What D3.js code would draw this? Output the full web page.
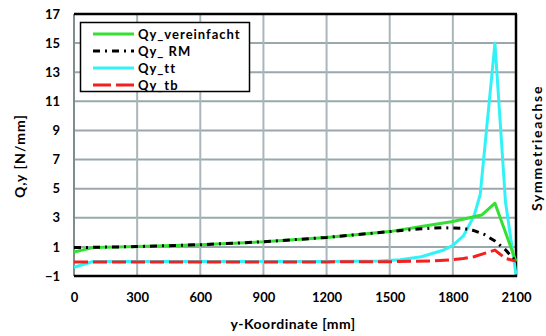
<!DOCTYPE html>
<html>
<head>
<meta charset="utf-8">
<script src="https://cdn.jsdelivr.net/npm/d3@7"></script>
<style>
  html, body { margin: 0; padding: 0; background: #fff; }
  svg { display: block; font-family: Lato, "Open Sans", sans-serif; font-weight: bold; }
</style>
</head>
<body>
<svg id="chart" width="546" height="336"></svg>
<script>
// Shear flow along the y coordinate for four load cases
const xTicks = [0, 300, 600, 900, 1200, 1500, 1800, 2100];
const yTicks = [-1, 1, 3, 5, 7, 9, 11, 13, 15, 17];

const seriesNames = ["Qy_vereinfacht", "Qy_ RM", "Qy_tt", "Qy_tb"];

const xVereinfacht = [0, 90, 300, 600, 900, 1200, 1500, 1650, 1800, 1937, 2000, 2100];
const yVereinfacht = [0.65, 0.95, 1.02, 1.15, 1.35, 1.65, 2.05, 2.4, 2.75, 3.19, 4.0, 0.0];

const xRM = [0, 300, 600, 900, 1200, 1500, 1650, 1750, 1850, 1900, 1950, 2000, 2050, 2100];
const yRM = [0.95, 1.02, 1.15, 1.35, 1.65, 2.05, 2.25, 2.32, 2.27, 2.12, 1.85, 1.4, 0.8, 0.0];

const xTT = [0, 90, 300, 600, 900, 1200, 1450, 1550, 1650, 1750, 1800, 1850, 1900, 1930, 2000, 2050, 2100];
const yTT = [-0.4, 0.0, 0.0, 0.0, 0.0, 0.0, 0.03, 0.12, 0.32, 0.75, 1.1, 1.75, 3.1, 4.6, 15.0, 4.1, -0.9];

const xTB = [0, 300, 600, 900, 1200, 1500, 1700, 1800, 1850, 1900, 1950, 2000, 2050, 2100];
const yTB = [-0.03, -0.03, -0.03, -0.03, -0.03, -0.02, 0.03, 0.12, 0.2, 0.32, 0.55, 0.78, 0.2, 0.03];

const svg = d3.select("#chart");
const plotLeft = 74, plotRight = 516, plotTop = 14, plotBottom = 276;

const x = d3.scaleLinear().domain([0, 2100]).range([plotLeft, plotRight]);
const y = d3.scaleLinear().domain([-1, 17]).range([plotBottom, plotTop]);

// grid
const grid = svg.append("g");
grid.selectAll("line.h").data(yTicks).join("line")
  .attr("x1", plotLeft).attr("x2", plotRight)
  .attr("y1", d => y(d)).attr("y2", d => y(d))
  .attr("stroke", "#9aa8ad").attr("stroke-width", 2);
grid.selectAll("line.v").data(xTicks).join("line")
  .attr("y1", plotTop).attr("y2", plotBottom)
  .attr("x1", d => x(d)).attr("x2", d => x(d))
  .attr("stroke", "#a9b6ba").attr("stroke-width", 2);

// plot frame
svg.append("line").attr("x1", plotLeft).attr("x2", plotLeft).attr("y1", plotTop).attr("y2", plotBottom)
  .attr("stroke", "#7f8c90").attr("stroke-width", 2);
svg.append("line").attr("x1", plotLeft).attr("x2", plotRight + 1).attr("y1", plotTop).attr("y2", plotTop)
  .attr("stroke", "#000").attr("stroke-width", 2.5);
svg.append("line").attr("x1", plotRight).attr("x2", plotRight).attr("y1", plotTop).attr("y2", plotBottom + 1)
  .attr("stroke", "#000").attr("stroke-width", 2.5);
svg.append("line").attr("x1", plotLeft).attr("x2", plotRight + 1).attr("y1", plotBottom).attr("y2", plotBottom)
  .attr("stroke", "#000").attr("stroke-width", 2.5);

// axes (labels only)
const xAxis = svg.append("g").attr("transform", `translate(0,${plotBottom})`)
  .call(d3.axisBottom(x).tickValues(xTicks).tickSize(0).tickPadding(17).tickFormat(d3.format("d")));
const yAxis = svg.append("g").attr("transform", `translate(${plotLeft},0)`)
  .call(d3.axisLeft(y).tickValues(yTicks).tickSize(0).tickPadding(14).tickFormat(d3.format("d")));
[xAxis, yAxis].forEach(a => {
  a.select(".domain").remove();
  a.selectAll("text").attr("font-family", "Lato, sans-serif").attr("font-weight", "bold")
    .attr("font-size", 13).attr("fill", "#000");
});

// series
const line = d3.line().x(d => x(d[0])).y(d => y(d[1]));
const zip = (xs, ys) => xs.map((v, i) => [v, ys[i]]);

const styles = [
  { data: zip(xVereinfacht, yVereinfacht), color: "#33e033", dash: null },
  { data: zip(xRM, yRM), color: "#000000", dash: "7,5,2,5" },
  { data: zip(xTT, yTT), color: "#33f2f7", dash: null },
  { data: zip(xTB, yTB), color: "#f22020", dash: "14,5" }
];
const drawOrder = [2, 0, 1, 3];
drawOrder.forEach(i => {
  const s = styles[i];
  svg.append("path").datum(s.data)
    .attr("d", line).attr("fill", "none")
    .attr("stroke", s.color).attr("stroke-width", 3)
    .attr("stroke-dasharray", s.dash)
    .attr("stroke-linejoin", "round");
});

// legend
const lg = svg.append("g");
lg.append("rect").attr("x", 80.5).attr("y", 22.5).attr("width", 169).attr("height", 69)
  .attr("fill", "#fff").attr("stroke", "#000").attr("stroke-width", 1.5);
const legendDash = [null, "7,5,2,5", null, "18,5"];
seriesNames.forEach((name, i) => {
  const yy = 34 + i * 17;
  lg.append("line").attr("x1", 93).attr("x2", 134).attr("y1", yy).attr("y2", yy)
    .attr("stroke", styles[i].color).attr("stroke-width", 3)
    .attr("stroke-dasharray", legendDash[i]);
  lg.append("text").attr("x", 138).attr("y", yy + 5).attr("font-size", 13)
    .attr("letter-spacing", 1).text(name);
});

// axis titles
svg.append("text").attr("x", 293).attr("y", 329).attr("text-anchor", "middle")
  .attr("font-size", 14).attr("letter-spacing", 0.5).text("y-Koordinate [mm]");
svg.append("text").attr("transform", "translate(25,156) rotate(-90)").attr("text-anchor", "middle")
  .attr("font-size", 14).attr("letter-spacing", 1.1).text("Q,y [N/mm]");
svg.append("text").attr("transform", "translate(542,148) rotate(-90)").attr("text-anchor", "middle")
  .attr("font-size", 14).attr("letter-spacing", 1.7).text("Symmetrieachse");
</script>
</body>
</html>
